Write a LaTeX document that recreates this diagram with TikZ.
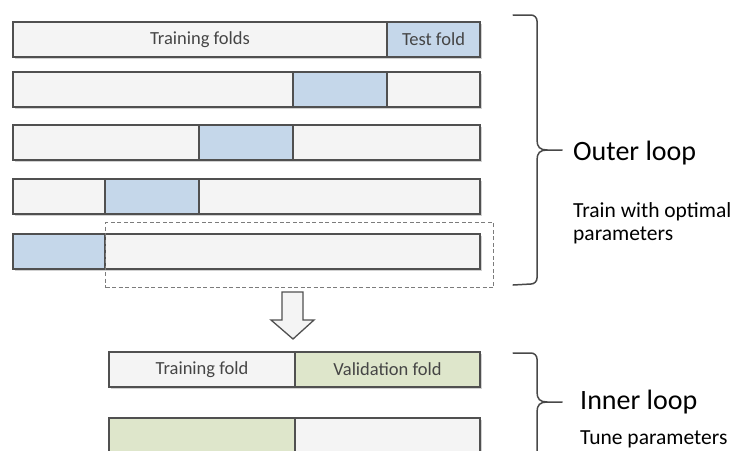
\documentclass[tikz,border=0pt]{standalone}
\usepackage{fontspec}
\setmainfont{Carlito}
\definecolor{barfill}{HTML}{F4F4F4}
\definecolor{bluefold}{HTML}{C5D7EA}
\definecolor{greenfold}{HTML}{DEE6CB}
\definecolor{edge}{HTML}{505050}
\definecolor{bartext}{HTML}{454545}
\begin{document}
\begin{tikzpicture}[x=1pt,y=-1pt,
  seg/.style={draw=edge,line width=1.3pt,minimum height=35pt,inner sep=0pt,outer sep=0pt,
     anchor=north west,font=\fontsize{18.5}{20}\selectfont,text=bartext},
  gray/.style={seg,fill=barfill},
  blue/.style={seg,fill=bluefold},
  green/.style={seg,fill=greenfold},
  shade/.style={fill=black,opacity=0.18},
  bracepath/.style={draw=edge!90!black,line width=1.5pt,line cap=round,line join=round},
  biglabel/.style={anchor=west,inner sep=0pt,font=\fontsize{28}{30}\selectfont,text=black},
  smalllabel/.style={anchor=base west,inner sep=0pt,font=\fontsize{21.5}{24}\selectfont,text=black}]
\useasboundingbox (0,0) rectangle (735,450);
% shadows
\foreach \t in {22,72,125,179,234} \fill[shade] (15,\t+2) rectangle (482,\t+37);
\fill[shade] (111,354) rectangle (482,389);
\fill[shade] (111,420) rectangle (482,455);
% row 1
\node[gray,minimum width=374pt] (r1a) at (13,22) {Training folds};
\node[blue,minimum width=93pt] (r1b) at (387,22) {Test fold};
% row 2
\node[gray,minimum width=280pt] (r2a) at (13,72) {};
\node[blue,minimum width=94pt] (r2b) at (293,72) {};
\node[gray,minimum width=93pt] (r2c) at (387,72) {};
% row 3
\node[gray,minimum width=186pt] (r3a) at (13,125) {};
\node[blue,minimum width=94pt] (r3b) at (199,125) {};
\node[gray,minimum width=187pt] (r3c) at (293,125) {};
% row 4
\node[gray,minimum width=92pt] (r4a) at (13,179) {};
\node[blue,minimum width=94pt] (r4b) at (105,179) {};
\node[gray,minimum width=281pt] (r4c) at (199,179) {};
% row 5
\node[blue,minimum width=92pt] (r5a) at (13,234) {};
\node[gray,minimum width=375pt] (r5b) at (105,234) {};
% dashed selection box
\node[draw=edge!75,dash pattern=on 4pt off 2.5pt,line width=1.4pt,minimum width=388pt,minimum height=65pt,
      anchor=north west,inner sep=0pt] (sel) at (105,222) {};
% hollow arrow
\draw[fill=barfill,draw=edge,line width=1.3pt,line join=miter]
  (282,292) -- (303,292) -- (303,320) -- (314,320) -- (293,339) -- (271,320) -- (282,320) -- cycle;
% inner rows
\node[gray,minimum width=186pt] (i1a) at (109,352) {Training fold};
\node[green,minimum width=185pt] (i1b) at (295,352) {Validation fold};
\node[green,minimum width=186pt] (i2a) at (109,418) {};
\node[gray,minimum width=185pt] (i2b) at (295,418) {};
% outer brace
\coordinate (otip) at (562,150);
\draw[bracepath] (513,15) -- (531,15) to[out=0,in=90] (537,21) -- (537,140)
  .. controls (537,147) and (540,150) .. (547,150) -- (otip);
\draw[bracepath] (547,150) .. controls (540,150) and (537,153) .. (537,160) -- (537,278)
  to[out=-90,in=0] (531,284) -- (513,285);
\node[biglabel] (outer) at (573,153) {Outer loop};
\node[smalllabel] (outerd1) at (573,217) {Train with optimal};
\node[smalllabel] (outerd2) at (573,240) {parameters};
% inner brace
\coordinate (itip) at (562,402);
\draw[bracepath] (513,353) -- (531,353) to[out=0,in=90] (537,359) -- (537,392)
  .. controls (537,399) and (540,402) .. (547,402) -- (itip);
\draw[bracepath] (547,402) .. controls (540,402) and (537,405) .. (537,412) -- (537,460);
\node[biglabel] (inner) at (580,402) {Inner loop};
\node[smalllabel] (innerd) at (580,444) {Tune parameters};
\end{tikzpicture}
\end{document}
